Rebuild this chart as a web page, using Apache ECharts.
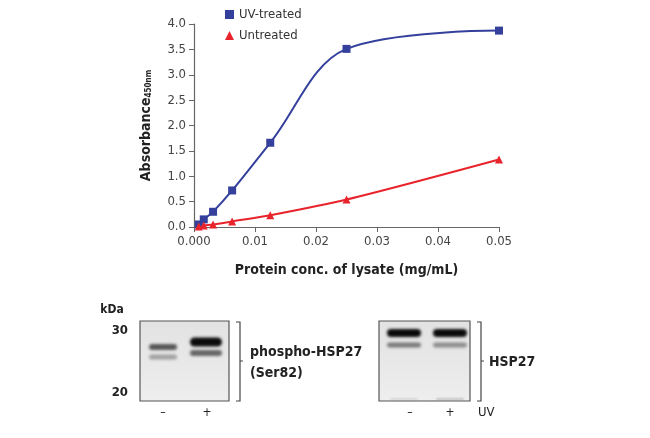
<!DOCTYPE html>
<html>
<head>
<meta charset="utf-8">
<script src="https://cdn.jsdelivr.net/npm/echarts@6/dist/echarts.min.js"></script>
<style>
  html, body { margin: 0; padding: 0; background: #fff; }
  #chart { width: 650px; height: 438px; }
</style>
</head>
<body>
<div id="chart"></div>
<script>
// 数据
var concentrations = [0.00078, 0.0016, 0.003125, 0.00625, 0.0125, 0.025, 0.05];
var uvTreated = [0.05, 0.15, 0.30, 0.72, 1.66, 3.51, 3.87];
var untreated = [0.01, 0.03, 0.05, 0.11, 0.23, 0.54, 1.33];
var seriesNames = ['UV-treated', 'Untreated'];
var laneLabels = ['–', '+'];

var FONT = '"DejaVu Sans Condensed", "Liberation Sans Narrow", Arial, sans-serif';
var BLUE = '#34409c';
var RED = '#e8232b';
var SHIFT = 800;   // 图形移出画布，只留下模糊的阴影

function pairs(xs, ys) {
    return xs.map(function (x, i) { return [x, ys[i]]; });
}

// 画一条 western blot 带（只显示模糊阴影）
function band(cx, cy, w, h, color, blur) {
    return {
        type: 'rect',
        shape: {x: cx - w / 2 + SHIFT, y: cy - h / 2, width: w, height: h, r: h / 2},
        style: {fill: color, shadowBlur: blur, shadowColor: color, shadowOffsetX: -SHIFT}
    };
}

function blotBox(x, y, w, h) {
    return {
        type: 'rect',
        shape: {x: x, y: y, width: w, height: h},
        style: {
            fill: new echarts.graphic.LinearGradient(0, 0, 0, 1, [
                {offset: 0, color: '#e2e2e2'},
                {offset: 1, color: '#eeeeee'}
            ]),
            stroke: '#555',
            lineWidth: 1.2
        }
    };
}

function bracket(x, y1, y2) {
    return {
        type: 'polyline',
        shape: {points: [[x - 4, y1], [x, y1], [x, y2], [x - 4, y2]]},
        style: {stroke: '#444', lineWidth: 1.2, fill: null}
    };
}

function text(x, y, str, size, bold, align) {
    return {
        type: 'text',
        x: x, y: y,
        style: {
            text: str, fill: '#222', font: (bold ? 'bold ' : '') + size + 'px ' + FONT,
            align: align || 'left', verticalAlign: 'middle'
        }
    };
}

var graphics = [
    // 左侧 blot
    blotBox(140, 321, 89, 80),
    band(163, 347, 28, 6, 'rgba(70,70,70,0.95)', 3),
    band(163, 357, 28, 5, 'rgba(120,120,120,0.8)', 3),
    band(206, 342, 32, 9, 'rgba(10,10,10,1)', 3),
    band(206, 353, 32, 6, 'rgba(70,70,70,0.9)', 3),
    bracket(240, 322, 401),
    {type: 'line', shape: {x1: 240, y1: 361, x2: 243, y2: 361}, style: {stroke: '#444', lineWidth: 1}},
    text(250, 352, 'phospho-HSP27', 14, true),
    text(250, 373, '(Ser82)', 14, true),
    text(112, 310, 'kDa', 12, true, 'center'),
    text(128, 331, '30', 13, true, 'right'),
    text(128, 393, '20', 13, true, 'right'),
    text(163, 413, laneLabels[0], 12, false, 'center'),
    text(207, 413, laneLabels[1], 12, false, 'center'),
    // 右侧 blot
    blotBox(379, 321, 91, 80),
    band(404, 333, 34, 8, 'rgba(10,10,10,1)', 3),
    band(404, 345, 34, 5, 'rgba(80,80,80,0.85)', 3),
    band(450, 333, 34, 8, 'rgba(10,10,10,1)', 3),
    band(450, 345, 34, 5, 'rgba(90,90,90,0.8)', 3),
    band(404, 399, 28, 2, 'rgba(140,140,140,0.5)', 2),
    band(450, 399, 28, 2, 'rgba(120,120,120,0.6)', 2),
    bracket(481, 322, 401),
    {type: 'line', shape: {x1: 481, y1: 361, x2: 484, y2: 361}, style: {stroke: '#444', lineWidth: 1}},
    text(489, 362, 'HSP27', 14, true),
    text(410, 413, laneLabels[0], 12, false, 'center'),
    text(450, 413, laneLabels[1], 12, false, 'center'),
    text(478, 413, 'UV', 13, false, 'left')
];

var chart = echarts.init(document.getElementById('chart'));
var option = {
    animation: false,
    textStyle: {fontFamily: FONT},
    grid: {left: 194, right: 151, top: 24, bottom: 211},
    legend: {
        left: 220, top: 3, orient: 'vertical', itemGap: 8,
        itemWidth: 9, itemHeight: 9,
        textStyle: {fontFamily: FONT, fontSize: 13, color: '#333'},
        data: [
            {name: seriesNames[0], icon: 'rect'},
            {name: seriesNames[1], icon: 'triangle'}
        ]
    },
    xAxis: {
        type: 'value', min: 0, max: 0.05, interval: 0.01,
        name: 'Protein conc. of lysate (mg/mL)', nameLocation: 'middle', nameGap: 36,
        nameTextStyle: {fontFamily: FONT, fontSize: 14, fontWeight: 'bold', color: '#222'},
        axisLine: {lineStyle: {color: '#666', width: 1.2}},
        axisTick: {show: true, length: 5, lineStyle: {color: '#666'}},
        axisLabel: {
            fontFamily: FONT, fontSize: 13, color: '#444', margin: 8,
            formatter: function (v) { return v === 0 ? '0.000' : String(+v.toFixed(2)); }
        },
        splitLine: {show: false}
    },
    yAxis: {
        type: 'value', min: 0, max: 4, interval: 0.5,
        name: '{a|Absorbance}{s|450nm}', nameLocation: 'middle', nameGap: 41, nameRotate: 90,
        nameTextStyle: {
            rich: {
                a: {fontFamily: FONT, fontSize: 14, fontWeight: 'bold', color: '#222'},
                s: {fontFamily: FONT, fontSize: 8, fontWeight: 'bold', color: '#222', verticalAlign: 'bottom', padding: [6, 0, 0, 0]}
            }
        },
        axisLine: {show: true, lineStyle: {color: '#666', width: 1.2}},
        axisTick: {show: true, length: 5, lineStyle: {color: '#666'}},
        axisLabel: {
            fontFamily: FONT, fontSize: 13, color: '#444', margin: 8,
            formatter: function (v) { return v.toFixed(1); }
        },
        splitLine: {show: false}
    },
    series: [
        {
            name: seriesNames[0], type: 'line', smooth: 0.35,
            data: pairs(concentrations, uvTreated),
            symbol: 'rect', symbolSize: 8,
            itemStyle: {color: BLUE},
            lineStyle: {color: BLUE, width: 2}
        },
        {
            name: seriesNames[1], type: 'line', smooth: 0.3,
            data: pairs(concentrations, untreated),
            symbol: 'triangle', symbolSize: 8,
            itemStyle: {color: RED},
            lineStyle: {color: RED, width: 2}
        }
    ],
    graphic: graphics
};
chart.setOption(option);
</script>
</body>
</html>
